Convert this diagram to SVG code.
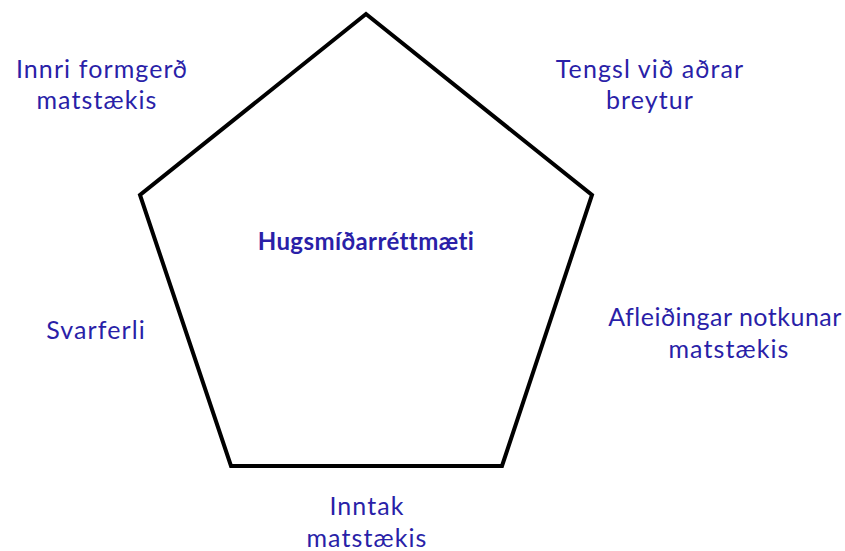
<svg xmlns="http://www.w3.org/2000/svg" width="845" height="551" viewBox="0 0 845 551">
<style>
.t{font-family:"Lato","Noto Sans",sans-serif;font-size:25px;fill:#2a1fa8;text-anchor:middle;letter-spacing:1.1px}
.c{font-weight:bold;font-size:24px;letter-spacing:0.4px}
.n{letter-spacing:0.5px}
</style>
<rect width="845" height="551" fill="#fff"/>
<g id="connectors"></g>
<g id="pentagon">
<polygon points="366,14 592,195 502,466 231,466 140,195" fill="none" stroke="#000" stroke-width="4" stroke-linejoin="miter"/>
<text class="t c" x="366" y="250">Hugsmíðarréttmæti</text>
</g>
<g id="n1"><text class="t" x="102" y="78">Innri formgerð</text><text class="t" x="97" y="109">matstækis</text></g>
<g id="n2"><text class="t" x="650" y="78">Tengsl við aðrar</text><text class="t" x="650" y="109">breytur</text></g>
<g id="n3"><text class="t" x="96" y="339">Svarferli</text></g>
<g id="n4"><text class="t n" x="725" y="326">Afleiðingar notkunar</text><text class="t" x="729" y="358">matstækis</text></g>
<g id="n5"><text class="t" x="367" y="515">Inntak</text><text class="t" x="367" y="547">matstækis</text></g>
</svg>
